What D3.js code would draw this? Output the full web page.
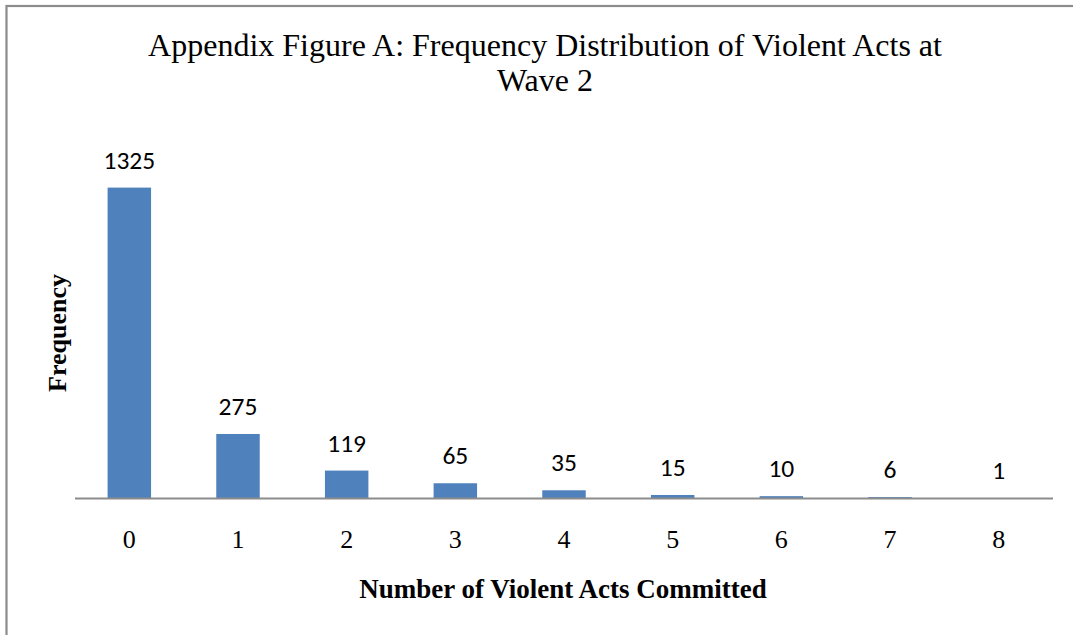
<!DOCTYPE html>
<html><head><meta charset="utf-8">
<script src="https://cdn.jsdelivr.net/npm/d3@7"></script>
<style>html,body{margin:0;padding:0;background:#fff;}svg{display:block;}</style>
</head><body>
<svg id="chart" width="1073" height="635"></svg>
<script>
const categories = ["0","1","2","3","4","5","6","7","8"];
const frequencies = [1325, 275, 119, 65, 35, 15, 10, 6, 1];
const titleLines = ["Appendix Figure A: Frequency Distribution of Violent Acts at", "Wave 2"];
const xTitle = "Number of Violent Acts Committed";
const yTitle = "Frequency";

const svg = d3.select("#chart");
const W = 1073, H = 635;

// outer frame
svg.append("rect").attr("x", 6.5).attr("y", 6).attr("width", W + 10).attr("height", H + 10)
  .attr("fill", "#fff").attr("stroke", "#8c8c8c").attr("stroke-width", 2.2);

const x = d3.scaleBand().domain(categories).range([75, 1053]).paddingInner(0.6).paddingOuter(0.3);
const y = d3.scaleLinear().domain([0, 1400]).range([498.5, 170]);

// bars
svg.append("g").selectAll("rect").data(frequencies).join("rect")
  .attr("x", (d, i) => x(categories[i]))
  .attr("y", d => y(d))
  .attr("width", x.bandwidth())
  .attr("height", d => y(0) - y(d))
  .attr("fill", "#4f81bd");

// x axis
const xAxis = d3.axisBottom(x).tickSize(0).tickPadding(0);
const gx = svg.append("g").attr("transform", `translate(0,${y(0)})`).call(xAxis);
gx.select(".domain").attr("stroke", "#8c8c8c").attr("stroke-width", 2).attr("d", "M75,0H1053");
gx.selectAll(".tick text").attr("dy", null).attr("y", 49)
  .attr("font-family", "'Liberation Serif','Times New Roman',serif").attr("font-size", 26).attr("fill", "#000");

// data labels
svg.append("g").selectAll("text").data(frequencies).join("text")
  .attr("x", (d, i) => x(categories[i]) + x.bandwidth() / 2)
  .attr("y", d => y(d) - 19)
  .attr("text-anchor", "middle")
  .attr("font-family", "Carlito, Lato, sans-serif").attr("font-size", 25.5).attr("fill", "#000")
  .text(d => d);

// title
svg.append("g").selectAll("text").data(titleLines).join("text")
  .attr("x", 545).attr("y", (d, i) => 56 + i * 35)
  .attr("text-anchor", "middle")
  .attr("font-family", "'Liberation Serif','Times New Roman',serif").attr("font-size", 32).attr("fill", "#000")
  .text(d => d);

// axis titles
svg.append("text").attr("x", 563).attr("y", 598).attr("text-anchor", "middle")
  .attr("font-family", "'Liberation Serif','Times New Roman',serif").attr("font-size", 27)
  .attr("font-weight", "bold").attr("fill", "#000").text(xTitle);

svg.append("text").attr("transform", "translate(66,333) rotate(-90)").attr("text-anchor", "middle")
  .attr("font-family", "'Liberation Serif','Times New Roman',serif").attr("font-size", 26)
  .attr("font-weight", "bold").attr("fill", "#000").text(yTitle);
</script>
</body></html>
